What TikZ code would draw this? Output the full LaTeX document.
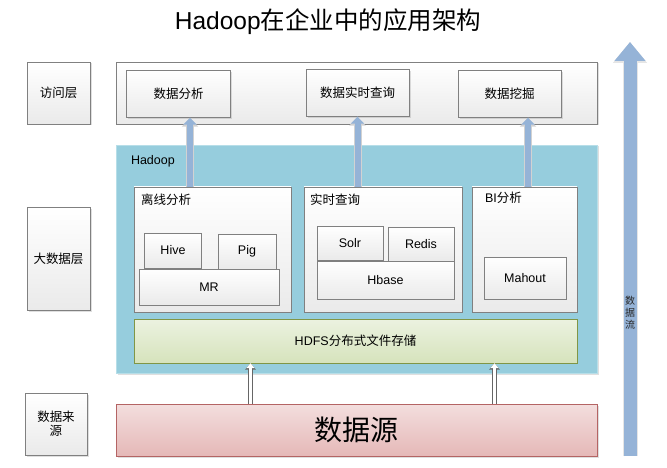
\documentclass[tikz,border=0pt]{standalone}
\usepackage{fontspec}
\setmainfont{Liberation Sans}
\newfontfamily\cjk{Noto Sans CJK SC}
\usetikzlibrary{arrows.meta,shadows}
\definecolor{boxline}{RGB}{128,128,128}
\definecolor{boxgray}{RGB}{234,234,234}
\definecolor{hadoopblue}{RGB}{150,205,221}
\definecolor{hadoopline}{RGB}{183,222,232}
\definecolor{hdfstop}{RGB}{236,242,224}
\definecolor{hdfsbot}{RGB}{214,227,188}
\definecolor{hdfsline}{RGB}{128,150,70}
\definecolor{srctop}{RGB}{243,222,222}
\definecolor{srcbot}{RGB}{229,184,183}
\definecolor{srcline}{RGB}{180,100,100}
\definecolor{arrowblue}{RGB}{149,179,215}

\begin{document}
\begin{tikzpicture}[x=1pt,y=-1pt,
box/.style={draw=boxline,top color=white,bottom color=boxgray,inner sep=0pt,font=\fontsize{12.5}{14}\selectfont},
soft/.style={drop shadow={opacity=.25,shadow xshift=1.5pt,shadow yshift=-1.5pt}},
tag/.style={anchor=north west,inner sep=0pt,font=\fontsize{12.5}{14}\selectfont},
flow/.style={line width=6pt,arrowblue,-{Triangle[width=13pt,length=7pt]},preaction={draw=gray!35,line width=8pt,-{Triangle[width=16pt,length=9pt]}}},
feed/.style={line width=3.5pt,white,-{Triangle[width=8pt,length=5pt]},preaction={draw=gray!80!black,line width=5pt,-{Triangle[width=10.5pt,length=6.5pt]}}}]
\useasboundingbox (0,0) rectangle (667,468);
%Заголовок
\node (title) at (328,22) {\fontsize{24.5}{27}\selectfont Hadoop{\cjk 在企业中的应用架构}};
%Слои слева
\node[box,soft,minimum width=63,minimum height=62] (access) at (58.5,93) {\cjk 访问层};
\node[box,soft,minimum width=63,minimum height=103] (bigdata) at (58.5,258.5) {\cjk 大数据层};
\node[box,soft,minimum width=62,minimum height=62,align=center] (srclabel) at (56,424) {\cjk 数据来\\\cjk 源};
%Уровень доступа
\node[box,soft,minimum width=481,minimum height=62] (apps) at (356.5,93) {};
\node[box,soft,minimum width=104,minimum height=47] (analysis) at (178.5,94) {\cjk 数据分析};
\node[box,soft,minimum width=103,minimum height=47] (query) at (357.5,93) {\cjk 数据实时查询};
\node[box,soft,minimum width=103,minimum height=47] (mining) at (509.5,94) {\cjk 数据挖掘};
%Hadoop
\node[draw=hadoopline,fill=hadoopblue,soft,minimum width=481,minimum height=228,inner sep=0pt] (hadoop) at (356.5,259) {};
\node[tag] (hadooptxt) at ([shift={(15,10)}]hadoop.north west) {Hadoop};
\node[box,minimum width=157,minimum height=125] (offline) at (212.5,249.5) {};
\node[tag] (offlinetxt) at ([shift={(7,7)}]offline.north west) {\cjk 离线分析};
\node[box,minimum width=57,minimum height=35] (hive) at (173,250.5) {Hive};
\node[box,minimum width=58,minimum height=35] (pig) at (247,251.5) {Pig};
\node[box,minimum width=140,minimum height=36] (mr) at (209,287) {MR};
\node[box,minimum width=158,minimum height=125] (realtime) at (383,249.5) {};
\node[tag] (realtimetxt) at ([shift={(6,7)}]realtime.north west) {\cjk 实时查询};
\node[box,minimum width=66,minimum height=34] (solr) at (350,243) {Solr};
\node[box,minimum width=66,minimum height=34] (redis) at (421,244) {Redis};
\node[box,minimum width=137,minimum height=38] (hbase) at (385.5,280) {Hbase};
\node[box,minimum width=105,minimum height=125] (bi) at (524.5,249.5) {};
\node[tag] (bitxt) at ([shift={(13,5)}]bi.north west) {BI{\cjk 分析}};
\node[box,minimum width=82,minimum height=42] (mahout) at (525,278) {Mahout};
\node[draw=hdfsline,top color=hdfstop,bottom color=hdfsbot,minimum width=443,minimum height=44,inner sep=0pt,font=\fontsize{12.5}{14}\selectfont] (hdfs) at (355.5,341) {HDFS{\cjk 分布式文件存储}};
%Источник данных
\node[draw=srcline,top color=srctop,bottom color=srcbot,soft,minimum width=481,minimum height=52,inner sep=0pt] (source) at (356.5,430) {\cjk\fontsize{28}{30}\selectfont 数据源};
%Стрелки
\draw[flow] ([xshift=11.5]analysis.south |- offline.north) -- ([xshift=11.5]analysis.south);
\draw[flow] (query.south |- realtime.north) -- (query.south);
\draw[flow] ([xshift=18.5]mining.south |- bi.north) -- ([xshift=18.5]mining.south);
\draw[feed] ([xshift=-106]source.north) -- ([xshift=-106]source.north |- hdfs.south);
\draw[feed] ([xshift=138]source.north) -- ([xshift=138]source.north |- hdfs.south);
%Поток данных
\coordinate (flowbot) at (630,456);
\coordinate (flowtop) at (630,42);
\draw[line width=13pt,arrowblue,-{Triangle[width=30pt,length=19pt]},preaction={draw=gray!20,line width=15pt,-{Triangle[width=33pt,length=21pt]}}] (flowbot) -- (flowtop);
\node[align=center,inner sep=0pt,font=\cjk\fontsize{10}{12}\selectfont,text=black!85] (flowtxt) at (630,313) {数\\据\\流};
\end{tikzpicture}
\end{document}
